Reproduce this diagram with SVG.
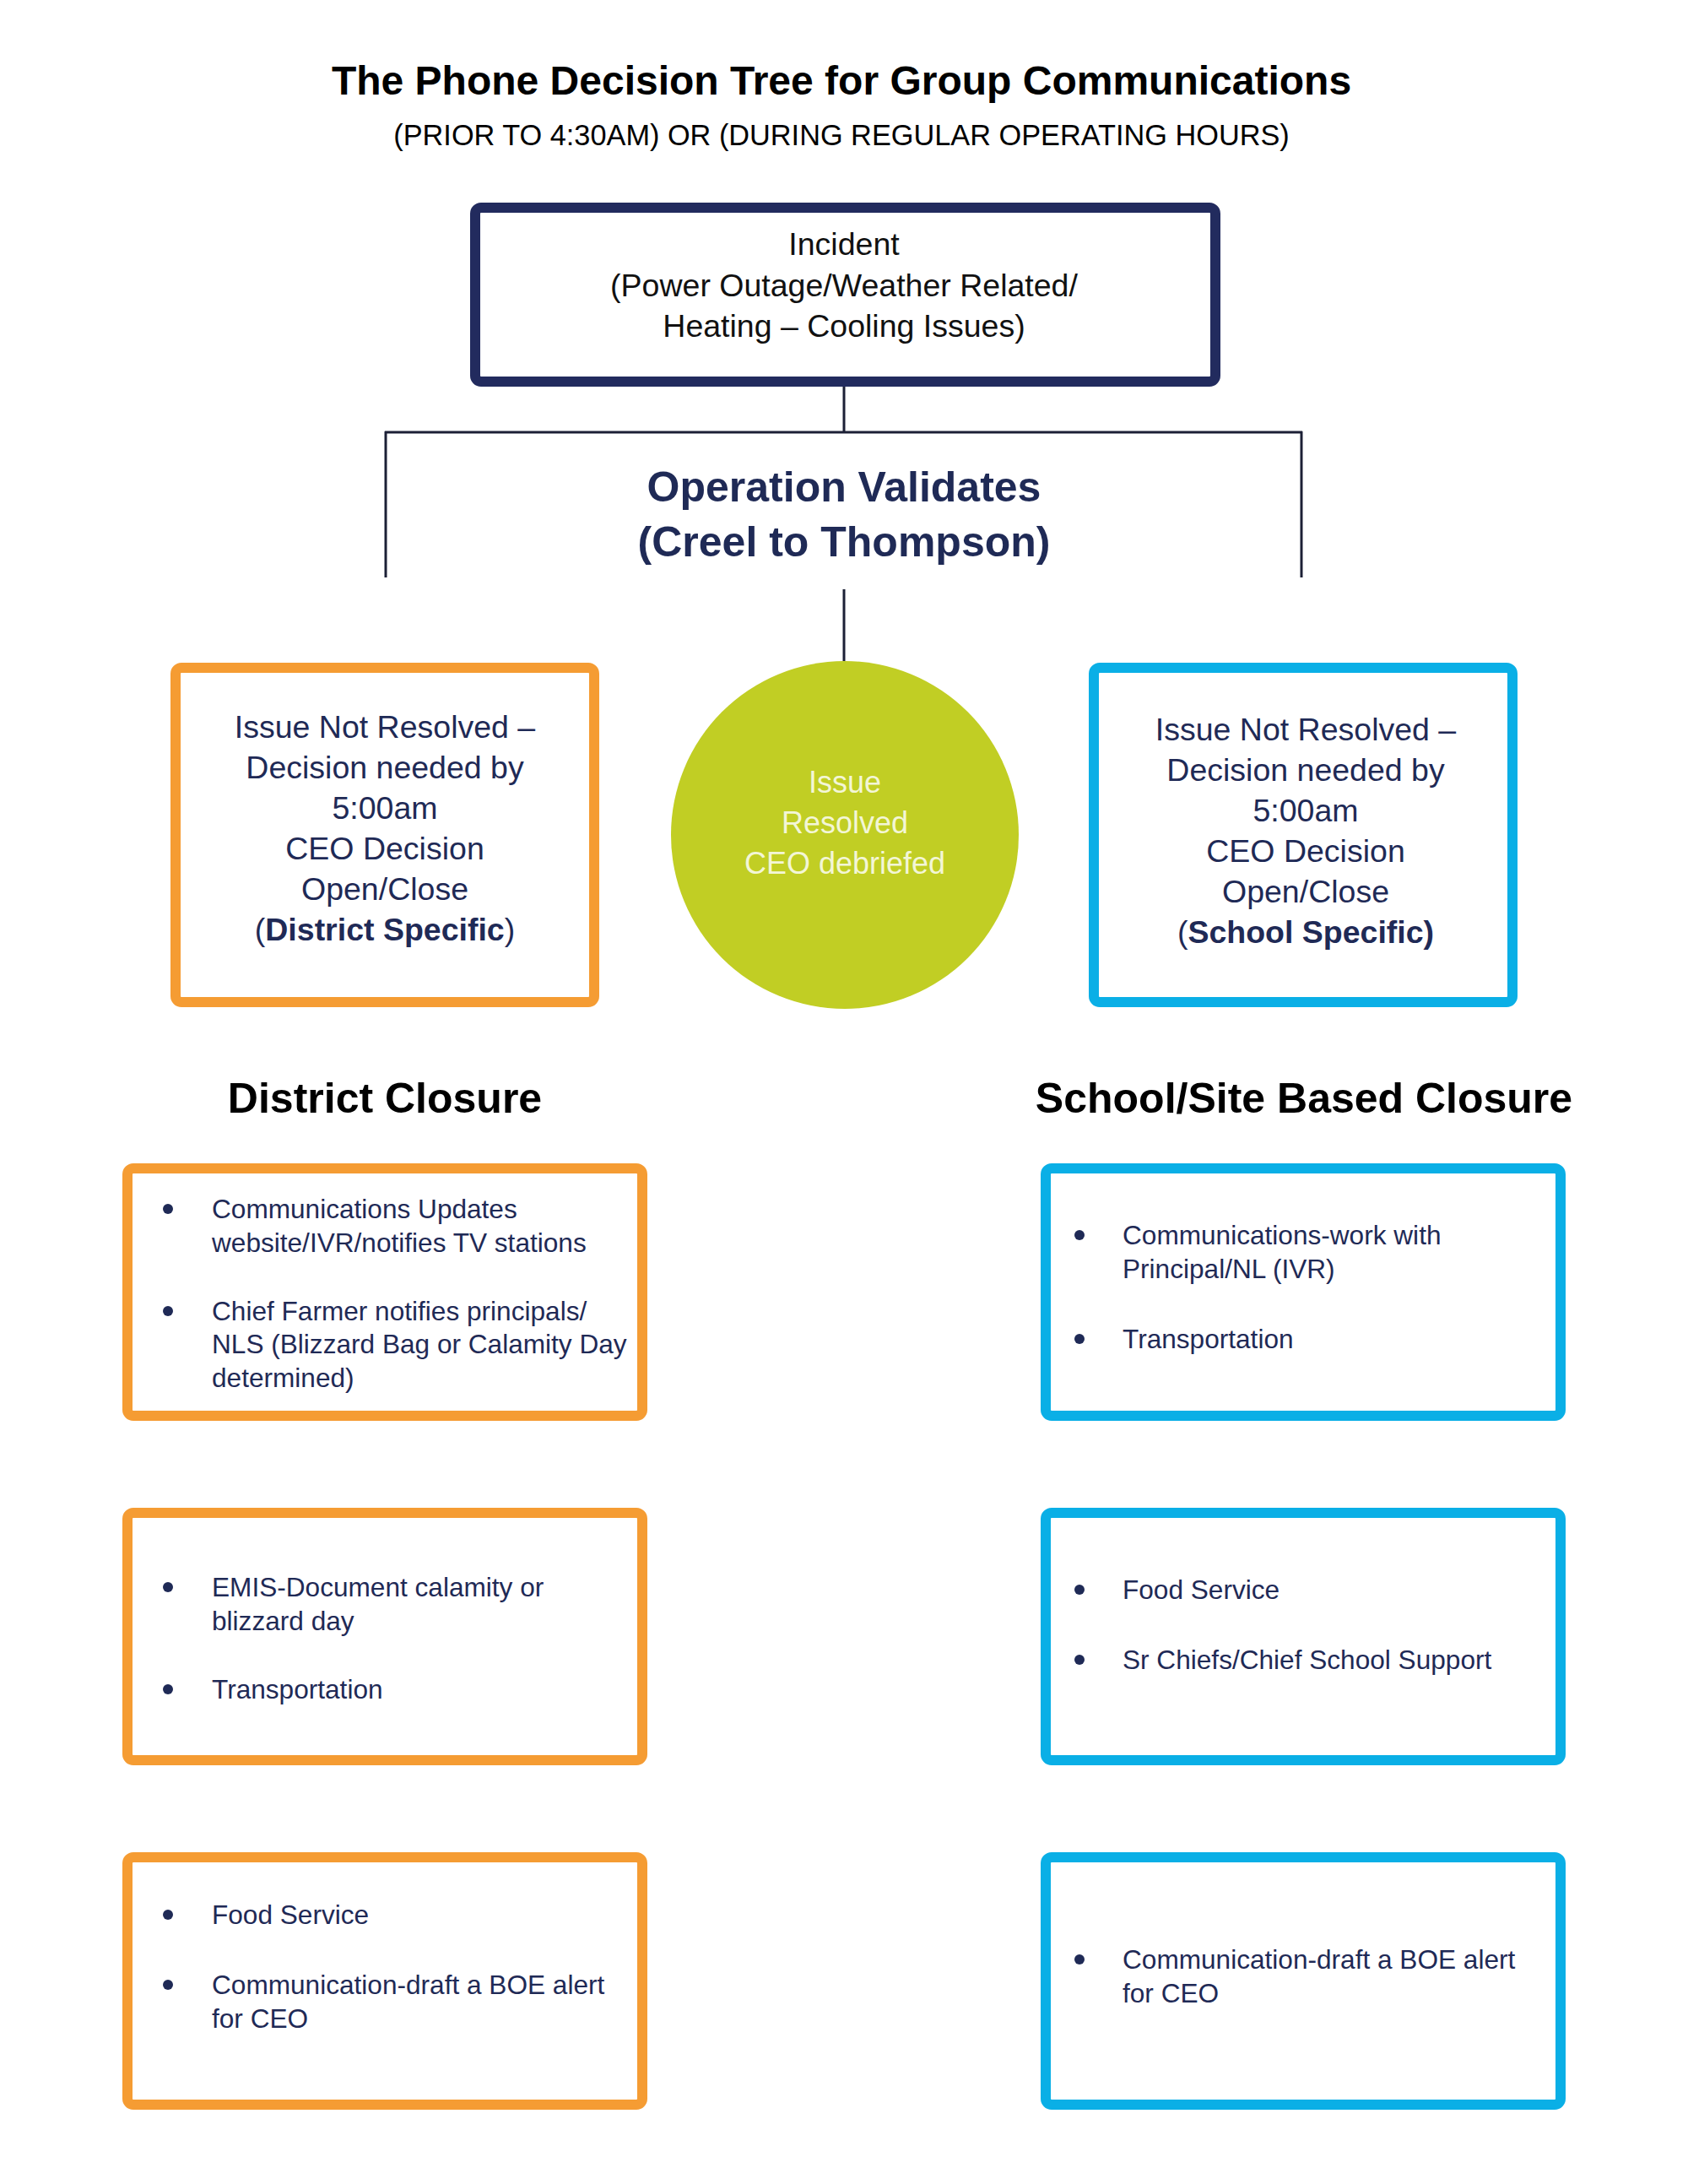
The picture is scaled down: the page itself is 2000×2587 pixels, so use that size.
<svg xmlns="http://www.w3.org/2000/svg" width="2000" height="2587" viewBox="0 0 2000 2587">
<style>
.bg{fill:#ffffff}
.title{font-family:"Liberation Sans",Arial,sans-serif;font-weight:bold;font-size:48px;fill:#000000;text-anchor:middle}
.sub{font-family:"Liberation Sans",Arial,sans-serif;font-size:34.3px;fill:#000000;text-anchor:middle}
.inc{font-family:"Liberation Sans",Arial,sans-serif;font-size:37.5px;fill:#111111;text-anchor:middle}
.op{font-family:"Liberation Sans",Arial,sans-serif;font-weight:bold;font-size:50px;fill:#1f2a56;text-anchor:middle}
.dec{font-family:"Liberation Sans",Arial,sans-serif;font-size:37.5px;fill:#1f2a56;text-anchor:middle}
.b{font-weight:bold}
.circ{font-family:"Liberation Sans",Arial,sans-serif;font-size:36px;fill:#f3f6d6;text-anchor:middle}
.head{font-family:"Liberation Sans",Arial,sans-serif;font-weight:bold;font-size:50px;fill:#000000;text-anchor:middle}
.item{font-family:"Liberation Sans",Arial,sans-serif;font-size:31.6px;fill:#1f2a56}
.navybox{fill:#ffffff;stroke:#222b5e;stroke-width:12}
.orbox{fill:#ffffff;stroke:#f59c33;stroke-width:12}
.blbox{fill:#ffffff;stroke:#0aafe6;stroke-width:12}
.dot{fill:#1f2a56}
.conn{stroke:#1c2036;stroke-width:3;fill:none}
</style>
<rect class="bg" x="0" y="0" width="2000" height="2587"/>

<g id="title">
<text class="title" x="997" y="112">The Phone Decision Tree for Group Communications</text>
<text class="sub" x="997" y="172">(PRIOR TO 4:30AM) OR (DURING REGULAR OPERATING HOURS)</text>
</g>

<g id="connectors">
<line class="conn" x1="1000" y1="458" x2="1000" y2="512"/>
<line class="conn" x1="456" y1="512" x2="1543" y2="512"/>
<line class="conn" x1="457" y1="511" x2="457" y2="684"/>
<line class="conn" x1="1542" y1="511" x2="1542" y2="684"/>
<line class="conn" x1="1000" y1="698" x2="1000" y2="783"/>
</g>

<g id="incident">
<rect class="navybox" x="563" y="246" width="877" height="206" rx="7"/>
<text class="inc" x="1000" y="302">Incident</text>
<text class="inc" x="1000" y="351">(Power Outage/Weather Related/</text>
<text class="inc" x="1000" y="399">Heating – Cooling Issues)</text>
</g>

<g id="operation">
<text class="op" x="1000" y="594">Operation Validates</text>
<text class="op" x="1000" y="659">(Creel to Thompson)</text>
</g>

<g id="district-decision">
<rect class="orbox" x="208" y="791" width="496" height="396" rx="7"/>
<text class="dec" x="456" y="874">Issue Not Resolved –</text>
<text class="dec" x="456" y="922">Decision needed by</text>
<text class="dec" x="456" y="970">5:00am</text>
<text class="dec" x="456" y="1018">CEO Decision</text>
<text class="dec" x="456" y="1066">Open/Close</text>
<text class="dec" x="456" y="1114">(<tspan class="b">District Specific</tspan>)</text>
</g>

<g id="resolved">
<circle cx="1001" cy="989" r="206" fill="#c1ce24"/>
<text class="circ" x="1001" y="939">Issue</text>
<text class="circ" x="1001" y="987">Resolved</text>
<text class="circ" x="1001" y="1035">CEO debriefed</text>
</g>

<g id="school-decision">
<rect class="blbox" x="1296" y="791" width="496" height="396" rx="7"/>
<text class="dec" x="1547" y="877">Issue Not Resolved –</text>
<text class="dec" x="1547" y="925">Decision needed by</text>
<text class="dec" x="1547" y="973">5:00am</text>
<text class="dec" x="1547" y="1021">CEO Decision</text>
<text class="dec" x="1547" y="1069">Open/Close</text>
<text class="dec" x="1547" y="1117">(<tspan class="b">School Specific)</tspan></text>
</g>

<g id="district-heading">
<text class="head" x="456" y="1318">District Closure</text>
</g>
<g id="school-heading">
<text class="head" x="1545" y="1318">School/Site Based Closure</text>
</g>

<g id="district-box-1">
<rect class="orbox" x="151" y="1384" width="610" height="293" rx="7"/>
<circle class="dot" cx="199" cy="1432" r="6"/>
<text class="item" x="251" y="1443">Communications Updates</text>
<text class="item" x="251" y="1483">website/IVR/notifies TV stations</text>
<circle class="dot" cx="199" cy="1553" r="6"/>
<text class="item" x="251" y="1564">Chief Farmer notifies principals/</text>
<text class="item" x="251" y="1603">NLS (Blizzard Bag or Calamity Day</text>
<text class="item" x="251" y="1643">determined)</text>
</g>

<g id="district-box-2">
<rect class="orbox" x="151" y="1792" width="610" height="293" rx="7"/>
<circle class="dot" cx="199" cy="1880" r="6"/>
<text class="item" x="251" y="1891">EMIS-Document calamity or</text>
<text class="item" x="251" y="1931">blizzard day</text>
<circle class="dot" cx="199" cy="2001" r="6"/>
<text class="item" x="251" y="2012">Transportation</text>
</g>

<g id="district-box-3">
<rect class="orbox" x="151" y="2200" width="610" height="293" rx="7"/>
<circle class="dot" cx="199" cy="2268" r="6"/>
<text class="item" x="251" y="2279">Food Service</text>
<circle class="dot" cx="199" cy="2351" r="6"/>
<text class="item" x="251" y="2362">Communication-draft a BOE alert</text>
<text class="item" x="251" y="2402">for CEO</text>
</g>

<g id="school-box-1">
<rect class="blbox" x="1239" y="1384" width="610" height="293" rx="7"/>
<circle class="dot" cx="1279" cy="1463" r="6"/>
<text class="item" x="1330" y="1474">Communications-work with</text>
<text class="item" x="1330" y="1514">Principal/NL (IVR)</text>
<circle class="dot" cx="1279" cy="1586" r="6"/>
<text class="item" x="1330" y="1597">Transportation</text>
</g>

<g id="school-box-2">
<rect class="blbox" x="1239" y="1792" width="610" height="293" rx="7"/>
<circle class="dot" cx="1279" cy="1883" r="6"/>
<text class="item" x="1330" y="1894">Food Service</text>
<circle class="dot" cx="1279" cy="1966" r="6"/>
<text class="item" x="1330" y="1977">Sr Chiefs/Chief School Support</text>
</g>

<g id="school-box-3">
<rect class="blbox" x="1239" y="2200" width="610" height="293" rx="7"/>
<circle class="dot" cx="1279" cy="2321" r="6"/>
<text class="item" x="1330" y="2332">Communication-draft a BOE alert</text>
<text class="item" x="1330" y="2372">for CEO</text>
</g>
</svg>
